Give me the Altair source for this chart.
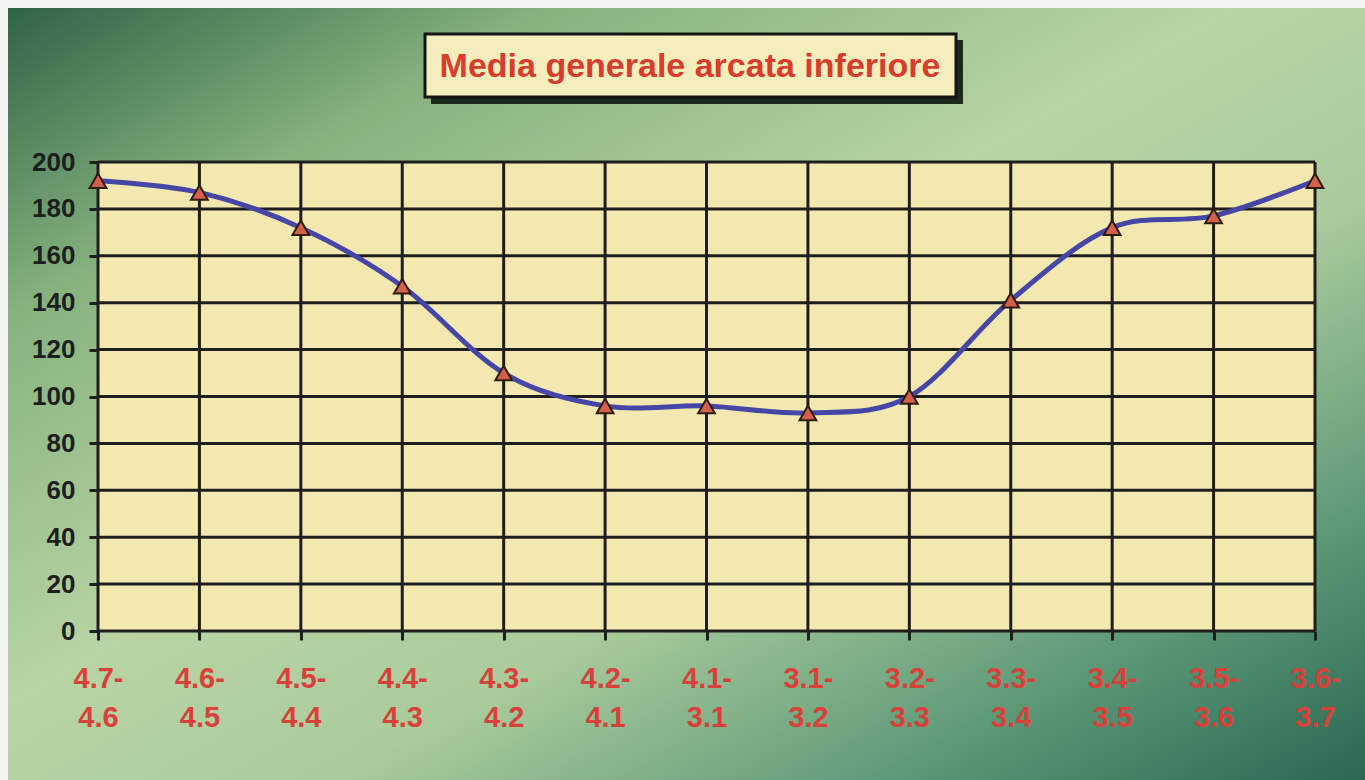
import altair as alt
import pandas as pd

categories = ["4.7-4.6", "4.6-4.5", "4.5-4.4", "4.4-4.3", "4.3-4.2", "4.2-4.1", "4.1-3.1",
              "3.1-3.2", "3.2-3.3", "3.3-3.4", "3.4-3.5", "3.5-3.6", "3.6-3.7"]
values = [192, 187, 172, 147, 110, 96, 96, 93, 100, 141, 172, 177, 192]
y_ticks = [0, 20, 40, 60, 80, 100, 120, 140, 160, 180, 200]
title_text = "Media generale arcata inferiore"

W, H = 1217, 469
PL, PT = 98, 162

df = pd.DataFrame({"cat": categories, "val": values})
df_y = pd.DataFrame({"v": y_ticks})
df_x = pd.DataFrame({"cat": categories})
one = pd.DataFrame({"a": [0]})

xenc = alt.X("cat:N", sort=categories, scale=alt.Scale(type="point", padding=0),
             axis=alt.Axis(title=None, grid=False, domain=False, ticks=True, tickSize=9,
                           tickWidth=3, tickColor="#1e1e1e", labelAngle=0, labelAlign="center",
                           labelExpr="[slice(datum.label,0,4), slice(datum.label,4)]",
                           labelFont="Liberation Sans", labelFontWeight="bold",
                           labelFontSize=29, labelColor="#d8413a", labelLineHeight=39,
                           labelPadding=38, labelOverlap=False, zindex=1))
yenc = alt.Y("val:Q", scale=alt.Scale(domain=[0, 200], nice=False, zero=True),
             axis=alt.Axis(title=None, grid=False, domain=False, values=y_ticks, tickSize=9,
                           tickWidth=3, tickColor="#1e1e1e", labelFont="Liberation Sans",
                           labelFontWeight="bold", labelFontSize=26, labelColor="#1e1e1e",
                           labelPadding=14, zindex=1))

gradient = {
    "gradient": "linear", "x1": 0, "y1": 0, "x2": 1, "y2": 1,
    "stops": [
        {"offset": 0.0, "color": "#2f6446"},
        {"offset": 0.2, "color": "#86b27e"},
        {"offset": 0.45, "color": "#b8d4a4"},
        {"offset": 0.62, "color": "#aacb9c"},
        {"offset": 0.82, "color": "#5f9a78"},
        {"offset": 1.0, "color": "#2a6852"},
    ],
}

bg = alt.Chart(one).mark_rect(fill=gradient).encode(
    x=alt.value(8 - PL), x2=alt.value(1365 - PL), y=alt.value(8 - PT), y2=alt.value(780 - PT))

plotfill = alt.Chart(one).mark_rect(fill="#f3e9b0").encode(
    x=alt.value(0), x2=alt.value(W), y=alt.value(0), y2=alt.value(H))

hgrid = alt.Chart(df_y).mark_rule(color="#1e1e1e", strokeWidth=3).encode(
    y=alt.Y("v:Q", scale=alt.Scale(domain=[0, 200], nice=False)))

vgrid = alt.Chart(df_x).mark_rule(color="#1e1e1e", strokeWidth=3).encode(
    x=alt.X("cat:N", sort=categories, scale=alt.Scale(type="point", padding=0)))

line = alt.Chart(df).mark_line(color="#4646a6", strokeWidth=5, interpolate="cardinal").encode(
    x=xenc, y=yenc)

pts = alt.Chart(df).mark_point(shape="triangle-up", filled=True, fill="#d4604a",
                               stroke="#2e1c12", strokeWidth=2, size=280, opacity=1).encode(
    x=alt.X("cat:N", sort=categories), y=alt.Y("val:Q"))

shadow = alt.Chart(one).mark_rect(fill="#1c2a1c").encode(
    x=alt.value(431 - PL), x2=alt.value(963 - PL), y=alt.value(40 - PT), y2=alt.value(104 - PT))
box = alt.Chart(one).mark_rect(fill="#f4edbc", stroke="#141414", strokeWidth=3).encode(
    x=alt.value(425 - PL), x2=alt.value(956 - PL), y=alt.value(34 - PT), y2=alt.value(97 - PT))
title = alt.Chart(one).mark_text(text=title_text, font="Liberation Sans", fontWeight="bold",
                                 fontSize=34, color="#d83c2c", align="center",
                                 baseline="middle").encode(
    x=alt.value(690 - PL), y=alt.value(67 - PT))

chart = alt.layer(bg, plotfill, hgrid, vgrid, line, pts, shadow, box, title).resolve_scale(
    x="shared", y="shared").properties(
    width=W, height=H,
    padding={"left": PL, "top": PT, "right": 1365 - PL - W, "bottom": 780 - PT - H},
    autosize=alt.AutoSizeParams(type="none"),
    background="#f3f3ef",
).configure_view(strokeWidth=0)

chart.save("out.html", embed_options={"renderer": "svg", "actions": False})
